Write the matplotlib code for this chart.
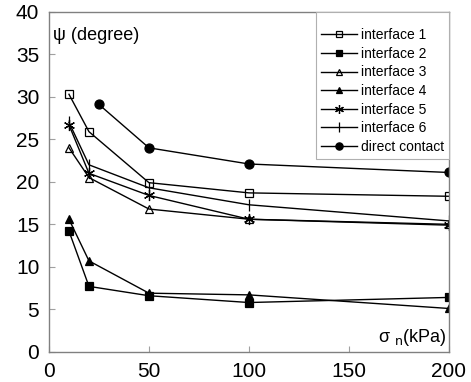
import matplotlib
matplotlib.use("Agg")
import matplotlib.pyplot as plt

plt.rcParams['font.family'] = ['Liberation Sans', 'DejaVu Sans']

# normal stress (kPa) and dilation angle (degree)
x_if = [10, 20, 50, 100, 200]
if1 = [30.3, 25.9, 19.9, 18.7, 18.3]
if2 = [14.2, 7.7, 6.6, 5.8, 6.4]
if3 = [24.0, 20.5, 16.8, 15.6, 15.0]
if4 = [15.6, 10.7, 6.9, 6.7, 5.1]
if5 = [26.7, 21.0, 18.4, 15.6, 14.9]
if6 = [27.0, 22.0, 19.3, 17.3, 15.4]
x_dc = [25, 50, 100, 200]
direct = [29.1, 24.0, 22.1, 21.1]

series = [
    (x_if, if1, 's', 'none', 'interface 1'),
    (x_if, if2, 's', 'k', 'interface 2'),
    (x_if, if3, '^', 'none', 'interface 3'),
    (x_if, if4, '^', 'k', 'interface 4'),
    (x_if, if5, (6, 2, 0), 'none', 'interface 5'),
    (x_if, if6, '|', 'none', 'interface 6'),
    (x_dc, direct, 'o', 'k', 'direct contact'),
]

fig = plt.figure(figsize=(4.71, 3.82), dpi=100)
ax = fig.add_axes([0.104, 0.079, 0.849, 0.890])

for xs, ys, m, fc, lab in series:
    ms = 6
    if m == '|':
        ms = 9
    elif m == 'o':
        ms = 6.5
    elif m != 's' and m != '^':
        ms = 8
    ax.plot(xs, ys, color='k', lw=1, marker=m, markersize=ms,
            markerfacecolor=fc, markeredgecolor='k', markeredgewidth=0.9,
            label=lab)

ax.set_xlim(0, 200)
ax.set_ylim(0, 40)
ax.set_xticks([0, 50, 100, 150, 200])
ax.set_yticks(range(0, 41, 5))
ax.tick_params(axis='both', direction='in', length=4, color='#a0a0a0',
               labelsize=15, pad=7)
for s in ax.spines.values():
    s.set_color('#808080')
    s.set_linewidth(1)

ax.text(0.01, 0.93, 'ψ (degree)', transform=ax.transAxes, fontsize=13,
        ha='left', va='center')
ax.text(0.995, 0.012, r'σ $_{\rm n}$(kPa)', transform=ax.transAxes,
        fontsize=13, ha='right', va='bottom')

leg = ax.legend(loc='upper right', borderaxespad=0, fontsize=10,
                handlelength=2.6, labelspacing=0.33, handletextpad=0.3,
                fancybox=False, framealpha=1, borderpad=0.35,
                markerscale=0.8, title=' ', title_fontsize=5)
leg.get_frame().set_edgecolor('#b0b0b0')
leg.get_frame().set_linewidth(0.8)

fig.savefig('out.png', dpi=100)
